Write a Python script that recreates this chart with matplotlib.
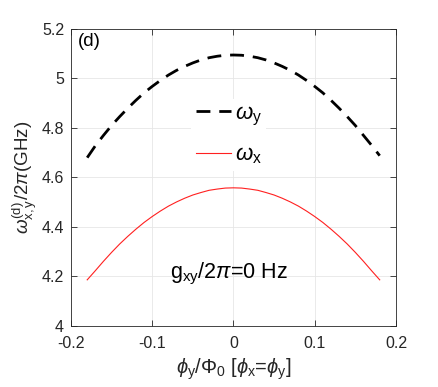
import matplotlib
matplotlib.use("Agg")
import matplotlib.pyplot as plt
from matplotlib.ticker import FormatStrFormatter

plt.rcParams['font.family'] = ['Liberation Sans', 'DejaVu Sans']
plt.rcParams['mathtext.fontset'] = 'custom'
plt.rcParams['mathtext.rm'] = 'Liberation Sans'
plt.rcParams['mathtext.it'] = 'Liberation Sans:italic'
plt.rcParams['axes.unicode_minus'] = False

# flux bias phi_y/Phi_0 (phi_x = phi_y)
phi = [-0.18, -0.17, -0.16, -0.15, -0.14, -0.13, -0.12, -0.11, -0.10, -0.09,
       -0.08, -0.07, -0.06, -0.05, -0.04, -0.03, -0.02, -0.01, 0.0,
       0.01, 0.02, 0.03, 0.04, 0.05, 0.06, 0.07, 0.08, 0.09,
       0.10, 0.11, 0.12, 0.13, 0.14, 0.15, 0.16, 0.17, 0.18]
# omega_y / 2pi (GHz)
w_y = [4.680, 4.728, 4.770, 4.810, 4.846, 4.880, 4.912, 4.942, 4.968, 4.992,
       5.014, 5.033, 5.049, 5.063, 5.075, 5.084, 5.090, 5.094, 5.095,
       5.094, 5.090, 5.084, 5.075, 5.063, 5.049, 5.033, 5.014, 4.992,
       4.968, 4.942, 4.912, 4.880, 4.846, 4.810, 4.770, 4.730, 4.688]
# omega_x / 2pi (GHz)
w_x = [4.186, 4.223, 4.261, 4.297, 4.331, 4.362, 4.391, 4.418, 4.442, 4.464,
       4.484, 4.501, 4.516, 4.529, 4.539, 4.548, 4.553, 4.557, 4.558,
       4.557, 4.553, 4.548, 4.539, 4.529, 4.516, 4.501, 4.484, 4.464,
       4.442, 4.418, 4.391, 4.362, 4.331, 4.297, 4.261, 4.223, 4.186]

xticks = [-0.2, -0.1, 0, 0.1, 0.2]
yticks = [4, 4.2, 4.4, 4.6, 4.8, 5, 5.2]

fig = plt.figure(figsize=(4.38, 3.87), dpi=100)
ax = fig.add_axes([0.162, 0.158, 0.742, 0.767])

ax.plot(phi, w_y, color='k', lw=2.0, dashes=(5, 3.2), label=r'$\omega_{\rm y}$')
ax.plot(phi, w_x, color='#ff2020', lw=0.8, label=r'$\omega_{\rm x}$')

ax.set_xlim(-0.2, 0.2)
ax.set_ylim(4, 5.2)
ax.set_xticks(xticks)
ax.set_yticks(yticks)
ax.xaxis.set_major_formatter(FormatStrFormatter('%g'))
ax.yaxis.set_major_formatter(FormatStrFormatter('%g'))
ax.tick_params(direction='in', top=True, right=True, length=4, width=0.6,
               colors='0.15', labelsize=11.5)
ax.tick_params(axis='x', pad=7)
ax.tick_params(axis='y', pad=5)
for s in ax.spines.values():
    s.set_color('0.15')
    s.set_linewidth(0.6)
ax.grid(True, color='0.9', lw=0.6)
ax.set_axisbelow(True)

ax.set_xlabel(r'$\phi_{\rm y}/\Phi_{\rm 0}$ [$\phi_{\rm x}$=$\phi_{\rm y}$]', fontsize=14.5,
              color='0.15', labelpad=4)
ax.set_ylabel(r'$\omega^{\rm (d)}_{\rm x,y}/2\pi$(GHz)', fontsize=13.5, color='0.15', labelpad=2)

ax.text(0.02, 0.985, '(d)', transform=ax.transAxes, fontsize=13.5, va='top', ha='left')
ax.text(-0.006, 4.19, r'g$_{\rm xy}$/2$\pi$=0 Hz', fontsize=15.5, ha='center', va='baseline')

leg = ax.legend(loc='upper left', bbox_to_anchor=(0.37, 0.765), fontsize=16,
                frameon=True, framealpha=1, edgecolor='none', fancybox=False,
                handlelength=1.6, handletextpad=0.15, borderpad=0.2,
                labelspacing=0.75, borderaxespad=0)

fig.savefig('out.png', dpi=100)
